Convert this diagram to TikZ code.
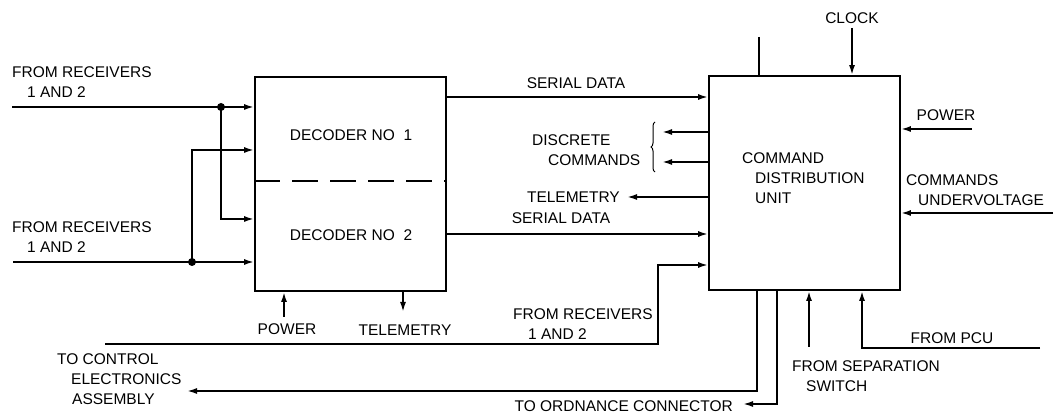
\documentclass[tikz,border=0pt]{standalone}
\usepackage{fontspec}
\setmainfont{Liberation Sans}
\usetikzlibrary{arrows.meta,decorations.pathreplacing}
\begin{document}
\begin{tikzpicture}[x=1pt,y=-1pt,
  ln/.style={line width=1.8pt},
  arr/.style={line width=1.8pt,-{Latex[length=10pt,width=6pt]}},
  box/.style={draw,line width=1.8pt,minimum width=191pt,minimum height=214pt,inner sep=0pt},
  lbl/.style={font=\fontsize{15.5}{20}\selectfont,inner sep=0pt,align=left},
  dot/.style={circle,fill,inner sep=0pt,minimum size=8pt}]
\useasboundingbox (0,0) rectangle (1058,419);
% boxes
\node[box] (dec) at (350.5,184) {};
\node[box] (cdu) at (804.5,183) {};
\coordinate (dsh) at (0,181);
\draw[ln,dash pattern=on 26pt off 12pt] (dec.west |- dsh) -- (dec.east |- dsh);
\node[lbl] (t1) at (351,135) {DECODER NO\ \ 1};
\node[lbl] (t2) at (351,235) {DECODER NO\ \ 2};
\node[lbl,anchor=west] (cdut) at (742,178) {COMMAND\\\hspace*{13pt}DISTRIBUTION\\\hspace*{13pt}UNIT};
% inputs to decoders
\coordinate (in1) at (12,107);
\coordinate (in2) at (13,262);
\node[dot] (d1) at (221,107) {};
\node[dot] (d2) at (192,262) {};
\coordinate (b1) at (221,219);
\coordinate (b2) at (192,150);
\draw[arr] (in1) -- (in1 -| dec.west);
\draw[arr] (in2) -- (in2 -| dec.west);
\draw[arr] (d1.center) -- (b1) -- (b1 -| dec.west);
\draw[arr] (d2.center) -- (b2) -- (b2 -| dec.west);
\node[lbl,anchor=west] (lr1) at (12,82) {FROM RECEIVERS\\\hspace*{15pt}1 AND 2};
\node[lbl,anchor=west] (lr2) at (12,237) {FROM RECEIVERS\\\hspace*{15pt}1 AND 2};
% decoder bottom
\coordinate (pw) at (284,317);
\draw[arr] (pw) -- (pw |- dec.south);
\node[lbl] (pwl) at (287,329) {POWER};
\coordinate (tm) at (403,312);
\draw[arr] (tm |- dec.south) -- (tm);
\node[lbl] (tml) at (405,330) {TELEMETRY};
% serial data
\coordinate (s1) at (446,97);
\coordinate (s2) at (446,234);
\draw[arr] (dec.east |- s1) -- (cdu.west |- s1);
\draw[arr] (dec.east |- s2) -- (cdu.west |- s2);
\node[lbl] (s1l) at (576,83) {SERIAL DATA};
\node[lbl] (s2l) at (561,218) {SERIAL DATA};
% discrete commands
\coordinate (dc1) at (662,132);
\coordinate (dc2) at (662,162);
\draw[arr] (cdu.west |- dc1) -- (dc1);
\draw[arr] (cdu.west |- dc2) -- (dc2);
\coordinate (br1) at (655,172);
\coordinate (br2) at (655,122);
\draw[decorate,decoration={brace,amplitude=4pt},line width=1pt] (br1) -- (br2);
\node[lbl,anchor=west] (dcl) at (532,150) {DISCRETE\\\hspace*{16pt}COMMANDS};
% telemetry out
\coordinate (tl) at (627,197);
\draw[arr] (cdu.west |- tl) -- (tl);
\node[lbl,anchor=east] (tll) at (620,197) {TELEMETRY};
% lower receivers input
\coordinate (r3) at (105,344);
\coordinate (r3b) at (658,344);
\coordinate (r3c) at (658,265);
\draw[arr] (r3) -- (r3b) -- (r3c) -- (r3c -| cdu.west);
\node[lbl,anchor=west] (lr3) at (513,324) {FROM RECEIVERS\\\hspace*{15pt}1 AND 2};
% top of CDU
\coordinate (tp) at (759,37);
\draw[ln] (tp) -- (tp |- cdu.north);
\node[lbl] (clk) at (852,18) {CLOCK};
\coordinate (ck) at (852,28);
\draw[arr] (ck) -- (ck |- cdu.north);
% right of CDU
\coordinate (pr) at (972,129);
\draw[arr] (pr) -- (pr -| cdu.east);
\node[lbl] (prl) at (946,115) {POWER};
\coordinate (uv) at (1053,213);
\draw[arr] (uv) -- (uv -| cdu.east);
\node[lbl,anchor=west] (uvl) at (906,190) {COMMANDS\\\hspace*{12pt}UNDERVOLTAGE};
% bottom of CDU
\coordinate (ce) at (757,391);
\coordinate (cet) at (187,391);
\draw[arr] (ce |- cdu.south) -- (ce) -- (cet);
\node[lbl,anchor=west] (cel) at (57,379) {TO CONTROL\\\hspace*{14pt}ELECTRONICS\\\hspace*{15pt}ASSEMBLY};
\coordinate (oc) at (777,404);
\coordinate (oct) at (743,404);
\draw[arr] (oc |- cdu.south) -- (oc) -- (oct);
\node[lbl,anchor=east] (ocl) at (733,406) {TO ORDNANCE CONNECTOR};
\coordinate (ss) at (809,347);
\draw[arr] (ss) -- (ss |- cdu.south);
\node[lbl,anchor=west] (ssl) at (792,376) {FROM SEPARATION\\\hspace*{14pt}SWITCH};
\coordinate (pcu) at (1040,348);
\coordinate (pcub) at (862,348);
\draw[arr] (pcu) -- (pcub) -- (pcub |- cdu.south);
\node[lbl] (pcul) at (952,338) {FROM PCU};
\end{tikzpicture}
\end{document}
